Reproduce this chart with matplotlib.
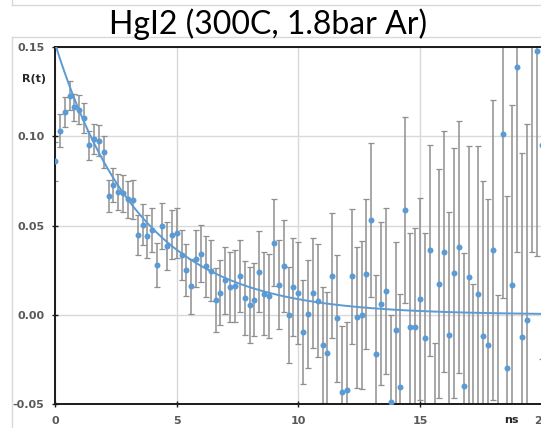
import numpy as np
import matplotlib
matplotlib.use("Agg")
import matplotlib.pyplot as plt
from matplotlib.lines import Line2D

# ---- data ----
t_step = 0.2
r_values = [
    0.0860, 0.1030, 0.1135, 0.1228, 0.1162, 0.1148, 0.1104, 0.0950, 0.0985, 0.0976,
    0.0912, 0.0665, 0.0727, 0.0688, 0.0681, 0.0647, 0.0644, 0.0449, 0.0504, 0.0440,
    0.0474, 0.0279, 0.0498, 0.0384, 0.0448, 0.0457, 0.0335, 0.0251, 0.0159, 0.0315,
    0.0341, 0.0271, 0.0247, 0.0084, 0.0124, 0.0193, 0.0156, 0.0161, 0.0217, 0.0096,
    0.0052, 0.0084, 0.0242, 0.0118, 0.0103, 0.0404, 0.0168, 0.0273, -0.0002, 0.0154,
    0.0122, -0.0096, 0.0004, 0.0122, 0.0079, -0.0172, -0.0213, 0.0219, -0.0021, -0.0434,
    -0.0423, 0.0215, -0.0015, 0.0000, 0.0229, 0.0530, -0.0219, 0.0063, 0.0131, -0.0490,
    -0.0083, -0.0406, 0.0586, -0.0071, -0.0066, 0.0088, -0.0133, 0.0360, -0.0780, 0.0174,
    0.0352, -0.0114, 0.0234, 0.0380, -0.0399, 0.0213, -0.0610, 0.0116, -0.0118, -0.0172,
    0.0365, -0.0790, 0.1010, -0.0296, 0.0165, 0.1390, -0.0122, -0.0030, 0.1550, 0.1480,
    0.0950,
]
r_errors = [
    0.0108, 0.0092, 0.0084, 0.0081, 0.0077, 0.0081, 0.0084, 0.0082, 0.0082, 0.0086,
    0.0092, 0.0089, 0.0096, 0.0100, 0.0104, 0.0105, 0.0110, 0.0112, 0.0116, 0.0120,
    0.0124, 0.0125, 0.0130, 0.0133, 0.0138, 0.0140, 0.0142, 0.0148, 0.0155, 0.0157,
    0.0160, 0.0169, 0.0171, 0.0178, 0.0183, 0.0187, 0.0194, 0.0199, 0.0201, 0.0207,
    0.0213, 0.0205, 0.0225, 0.0232, 0.0236, 0.0245, 0.0250, 0.0260, 0.0270, 0.0275,
    0.0285, 0.0290, 0.0300, 0.0310, 0.0315, 0.0325, 0.0340, 0.0350, 0.0355, 0.0370,
    0.0380, 0.0380, 0.0395, 0.0415, 0.0420, 0.0430, 0.0440, 0.0455, 0.0465, 0.0490,
    0.0490, 0.0520, 0.0520, 0.0530, 0.0550, 0.0565, 0.0590, 0.0590, 0.0620, 0.0640,
    0.0675, 0.0690, 0.0700, 0.0705, 0.0745, 0.0730, 0.0780, 0.0830, 0.0870, 0.0820,
    0.0840, 0.0900, 0.0916, 0.0960, 0.1010, 0.1040, 0.1030, 0.1100, 0.1200, 0.1150,
    0.1200,
]
t_values = np.arange(len(r_values)) * t_step

# exponential fit parameters
fit_amp = 0.152
fit_tau = 3.5

x_ticks = [0, 5, 10, 15, 20]
y_ticks = [-0.05, 0.00, 0.05, 0.10, 0.15]
title_text = "HgI2 (300C, 1.8bar Ar)"

# ---- figure ----
W, H = 541, 428
fig = plt.figure(figsize=(W / 100, H / 100), dpi=100)

def fx(px):
    return px / W

def fy(py):
    return 1 - py / H

# outer chart frame lines (light gray)
frame_c = "#d9d9d9"
fig.add_artist(Line2D([fx(12), 1], [fy(5), fy(5)], color=frame_c, lw=1))
fig.add_artist(Line2D([fx(12), fx(12)], [1, fy(5)], color=frame_c, lw=1))
fig.add_artist(Line2D([fx(12), 1], [fy(37), fy(37)], color=frame_c, lw=1))
fig.add_artist(Line2D([fx(12), fx(12)], [fy(37), 0], color=frame_c, lw=1))

ax = fig.add_axes([fx(55), fy(404), fx(541) - fx(55) + 0.001, fy(47) - fy(404)])

blue = "#5B9BD5"
ax.errorbar(t_values, r_values, yerr=r_errors, fmt="none", ecolor="#8f8f8f",
            elinewidth=1.1, capsize=2.2, capthick=0.9, zorder=2)
ax.plot(t_values, r_values, "o", color=blue, markersize=4.3, markeredgewidth=0, zorder=4)

t_fit = np.linspace(0, 20, 400)
ax.plot(t_fit, fit_amp * np.exp(-t_fit / fit_tau), color=blue, lw=1.4, zorder=3)

ax.set_xlim(0, 20)
ax.set_ylim(-0.05, 0.15)
ax.set_xticks(x_ticks)
ax.set_yticks(y_ticks)
ax.set_xticklabels(["0", "5", "10", "15", "20"])
ax.set_yticklabels(["-0.05", "0.00", "0.05", "0.10", "0.15"])
ax.grid(True, color="#d9d9d9", lw=1.0, zorder=0)
ax.set_axisbelow(True)

for s in ["left", "bottom", "top"]:
    ax.spines[s].set_color("#1a1a1a")
    ax.spines[s].set_linewidth(1.4)
ax.spines["right"].set_visible(False)

ax.tick_params(axis="both", direction="inout", length=5, width=1.0, color="#1a1a1a",
               labelsize=8, labelcolor="#595959")
ax.tick_params(axis="y", pad=5)
ax.tick_params(axis="x", pad=6)
for lab in ax.get_xticklabels() + ax.get_yticklabels():
    lab.set_fontweight("bold")

fig.text(fx(34), fy(79), "R(t)", fontsize=8, fontweight="bold", color="#262626",
         ha="center", va="center")
fig.text(fx(511.5), fy(420), "ns", fontsize=8, fontweight="bold", color="#262626",
         ha="center", va="center")

fig.text(fx(268), fy(24), title_text, fontsize=23, color="#000000",
         ha="center", va="center", family=["Lato", "DejaVu Sans"])

fig.savefig("out.png", dpi=100)
